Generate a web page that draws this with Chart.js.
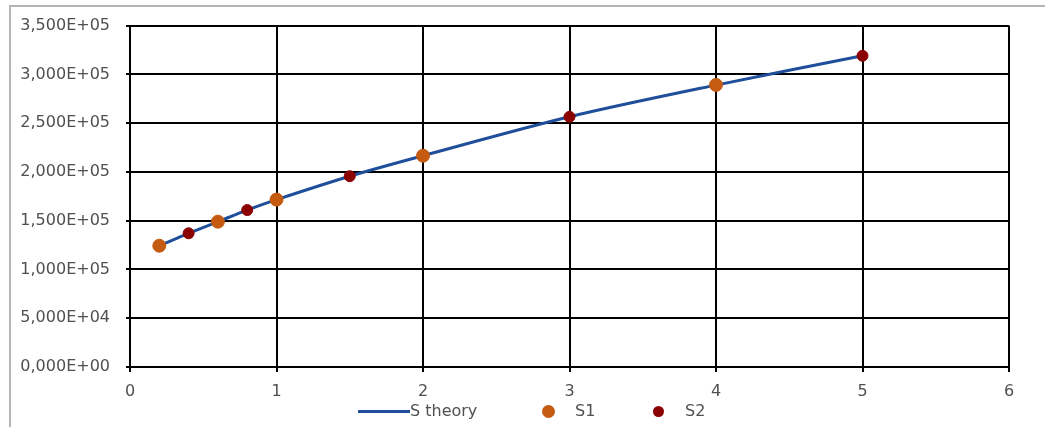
<!DOCTYPE html>
<html>
<head>
<meta charset="utf-8">
<script src="https://cdn.jsdelivr.net/npm/chart.js@4/dist/chart.umd.min.js"></script>
<style>
  html, body { margin: 0; padding: 0; background: #fff; }
  #wrap { position: relative; width: 1045px; height: 427px; overflow: hidden; }
  #frame { position: absolute; left: 9px; top: 5px; width: 1100px; height: 500px;
           border-left: 2px solid #b4b4b4; border-top: 2px solid #b4b4b4; }
  #c { position: absolute; left: 0; top: 0; }
  #legend { position: absolute; top: 401px; left: 0; width: 1045px; height: 20px;
            font-family: "DejaVu Sans", sans-serif; font-size: 16px; color: #505050; }
  .it { position: absolute; top: 0; line-height: 20px; white-space: nowrap; }
  .ln { position: absolute; top: 9px; height: 3px; width: 52px; background: #1f4e9a; }
  .dot { position: absolute; border-radius: 50%; }
</style>
</head>
<body>
<div id="wrap">
  <div id="frame"></div>
  <canvas id="c" width="1045" height="427"></canvas>
  <div id="legend">
    <div class="ln" style="left:358px"></div>
    <div class="it" style="left:410px">S theory</div>
    <div class="dot" style="left:542px;top:4px;width:13px;height:13px;background:#c55a11"></div>
    <div class="it" style="left:575px">S1</div>
    <div class="dot" style="left:653px;top:5px;width:11px;height:11px;background:#8b0000"></div>
    <div class="it" style="left:685px">S2</div>
  </div>
</div>
<script>
const theoryX = [0.2, 0.4, 0.6, 0.8, 1, 1.5, 2, 3, 4, 5];
const theoryY = [124300, 137100, 149000, 160900, 171600, 195600, 216600, 256500, 289000, 319000];
const s1X = [0.2, 0.6, 1, 2, 4];
const s1Y = [124300, 149000, 171600, 216600, 289200];
const s2X = [0.4, 0.8, 1.5, 3, 5];
const s2Y = [137100, 160900, 195600, 256500, 319100];
const legendLabels = ["S theory", "S1", "S2"];

const zip = (xs, ys) => xs.map((x, i) => ({ x: x, y: ys[i] }));
const fmt = v => {
  const s = Number(v).toExponential(3).replace('.', ',');
  return s.replace(/e([+-])(\d+)$/, (m, sg, d) => 'E' + sg + (d.length < 2 ? '0' + d : d));
};

Chart.defaults.font.family = '"DejaVu Sans", sans-serif';
Chart.defaults.font.size = 16;
Chart.defaults.color = '#505050';

new Chart(document.getElementById('c'), {
  type: 'scatter',
  data: {
    datasets: [
      { label: legendLabels[0], data: zip(theoryX, theoryY), showLine: true,
        borderColor: '#1f4e9a', borderWidth: 3, pointRadius: 0, tension: 0.3, order: 3 },
      { label: legendLabels[1], data: zip(s1X, s1Y), backgroundColor: '#c55a11',
        borderColor: '#c55a11', pointRadius: 6.5, pointHoverRadius: 6.5, order: 2 },
      { label: legendLabels[2], data: zip(s2X, s2Y), backgroundColor: '#8b0000',
        borderColor: '#8b0000', pointRadius: 5.5, pointHoverRadius: 5.5, order: 1 }
    ]
  },
  options: {
    responsive: false,
    animation: false,
    events: [],
    layout: { padding: { left: 0, right: 36, top: 23, bottom: 0 } },
    plugins: { legend: { display: false }, tooltip: { enabled: false } },
    scales: {
      x: {
        type: 'linear', min: 0, max: 6,
        ticks: { stepSize: 1, padding: 10, color: '#505050' },
        grid: { color: '#000', lineWidth: 2, tickLength: 5, drawTicks: true },
        border: { color: '#000', width: 2 },
        afterFit: s => { s.height = 60; }
      },
      y: {
        type: 'linear', min: 0, max: 350000,
        ticks: { stepSize: 50000, padding: 16, color: '#505050', callback: v => fmt(v) },
        grid: { color: '#000', lineWidth: 2, tickLength: 4 },
        border: { color: '#000', width: 2 },
        afterFit: s => { s.width = 130; }
      }
    }
  }
});
</script>
</body>
</html>
